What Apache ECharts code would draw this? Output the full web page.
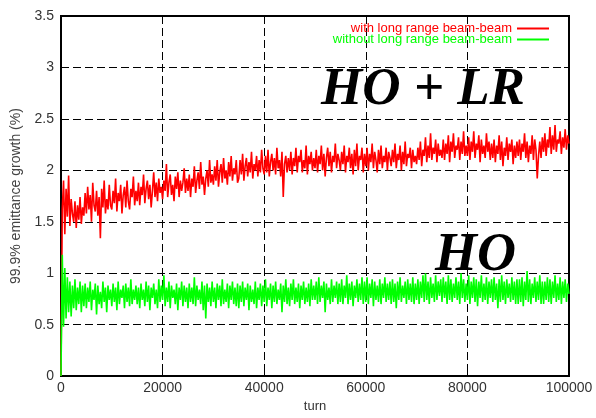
<!DOCTYPE html>
<html>
<head>
<meta charset="utf-8">
<script src="https://cdn.jsdelivr.net/npm/echarts@6/dist/echarts.min.js"></script>
<style>
    html, body { margin: 0; padding: 0; background: #fff; }
    #chart { width: 596px; height: 418px; }
</style>
</head>
<body>
<div id="chart"></div>
<script>
// turns are sampled every turnStep, starting at 0
var turnStep = 250;
var xTicks = [0, 20000, 40000, 60000, 80000, 100000];
var yTicks = [0, 0.5, 1, 1.5, 2, 2.5, 3, 3.5];
var seriesNames = ["with long range beam-beam", "without long range beam-beam"];

// HO + LR, one row = 5000 turns
var redValues = [
    0, 1.62, 1.90, 1.38, 1.82, 1.55, 1.95, 1.46, 1.72, 1.58, 1.50, 1.70, 1.44, 1.66, 1.52, 1.74, 1.48, 1.64, 1.56, 1.78,
    1.58, 1.84, 1.62, 1.76, 1.50, 1.88, 1.66, 1.60, 1.80, 1.56, 1.74, 1.34, 1.82, 1.64, 1.90, 1.58, 1.72, 1.62, 1.86, 1.66,
    1.62, 1.80, 1.68, 1.92, 1.60, 1.78, 1.70, 1.86, 1.58, 1.76, 1.84, 1.64, 1.90, 1.70, 1.62, 1.82, 1.74, 1.94, 1.66, 1.80,
    1.70, 1.88, 1.66, 1.84, 1.76, 1.96, 1.68, 1.82, 1.90, 1.72, 1.86, 1.64, 1.80, 1.98, 1.74, 1.88, 1.70, 1.92, 1.78, 1.84,
    1.72, 1.90, 1.80, 2.06, 1.74, 1.88, 1.96, 1.76, 1.86, 1.70, 1.94, 1.82, 1.98, 1.74, 1.90, 1.80, 1.88, 2.02, 1.78, 1.92,
    1.80, 1.96, 1.74, 1.92, 1.84, 2.04, 1.78, 1.90, 1.98, 1.82, 2.08, 1.86, 1.94, 1.76, 1.92, 2.00, 1.84, 2.10, 1.88, 1.96,
    1.86, 2.04, 1.90, 2.10, 1.84, 1.98, 2.06, 1.88, 2.12, 1.92, 2.00, 1.86, 2.08, 1.94, 2.14, 1.90, 2.02, 1.96, 2.10, 1.88,
    1.92, 2.10, 1.96, 2.16, 1.90, 2.04, 2.12, 1.94, 2.08, 1.98, 2.18, 1.92, 2.06, 2.00, 2.14, 1.94, 2.10, 1.98, 2.20, 2.02,
    1.96, 2.14, 1.98, 2.20, 1.94, 2.08, 2.16, 2.00, 2.12, 1.96, 2.22, 2.02, 2.10, 1.94, 2.18, 1.74, 2.06, 2.14, 1.98, 2.12,
    2.00, 2.18, 1.96, 2.12, 2.04, 2.22, 1.98, 2.14, 2.08, 2.20, 1.98, 2.10, 2.02, 2.24, 1.96, 2.14, 2.06, 2.18, 2.00, 2.12,
    2.02, 2.20, 1.98, 2.14, 2.06, 2.24, 2.00, 2.16, 1.94, 2.12, 2.22, 2.04, 2.18, 1.98, 2.14, 2.08, 2.26, 2.02, 2.16, 2.10,
    2.00, 2.18, 2.06, 2.24, 1.98, 2.14, 2.08, 2.22, 2.02, 2.16, 1.96, 2.20, 2.04, 2.26, 2.00, 2.14, 2.10, 2.22, 1.98, 2.16,
    2.04, 2.22, 2.00, 2.16, 2.08, 2.26, 2.02, 2.18, 2.10, 1.98, 2.20, 2.06, 2.24, 2.02, 2.14, 2.08, 2.22, 2.00, 2.18, 2.12,
    2.04, 2.20, 2.08, 2.26, 2.02, 2.16, 2.10, 2.24, 2.00, 2.18, 2.06, 2.28, 2.04, 2.16, 2.12, 2.22, 2.02, 2.20, 2.08, 2.14,
    2.06, 2.22, 2.10, 2.28, 2.04, 2.20, 2.14, 2.32, 2.08, 2.24, 2.12, 2.36, 2.10, 2.22, 2.16, 2.30, 2.08, 2.26, 2.14, 2.20,
    2.12, 2.30, 2.10, 2.26, 2.16, 2.34, 2.08, 2.28, 2.18, 2.36, 2.12, 2.24, 2.20, 2.32, 2.10, 2.28, 2.16, 2.38, 2.14, 2.24,
    2.14, 2.32, 2.10, 2.28, 2.18, 2.38, 2.12, 2.26, 2.20, 2.34, 2.08, 2.30, 2.16, 2.24, 2.12, 2.36, 2.18, 2.28, 2.10, 2.26,
    2.12, 2.30, 2.08, 2.24, 2.16, 2.34, 2.10, 2.28, 2.04, 2.22, 2.14, 2.32, 2.10, 2.26, 2.18, 2.30, 2.06, 2.24, 2.12, 2.28,
    2.14, 2.30, 2.10, 2.26, 2.18, 2.36, 2.12, 2.28, 2.08, 2.24, 2.16, 2.34, 2.10, 2.30, 2.20, 1.92, 2.14, 2.28, 2.12, 2.32,
    2.18, 2.36, 2.14, 2.30, 2.22, 2.42, 2.16, 2.34, 2.20, 2.44, 2.18, 2.30, 2.26, 2.38, 2.16, 2.32, 2.22, 2.40, 2.20, 2.34,
    2.26
];

// HO only, one row = 5000 turns
var greenValues = [
    0, 1.18, 0.48, 1.05, 0.56, 0.96, 0.62, 0.92, 0.58, 0.88, 0.66, 0.94, 0.64, 0.86, 0.70, 0.92, 0.62, 0.88, 0.68, 0.90,
    0.66, 0.86, 0.72, 0.92, 0.64, 0.84, 0.74, 0.90, 0.60, 0.88, 0.70, 0.82, 0.66, 0.92, 0.72, 0.86, 0.62, 0.88, 0.74, 0.84,
    0.68, 0.90, 0.72, 0.86, 0.64, 0.92, 0.70, 0.84, 0.76, 0.88, 0.66, 0.90, 0.72, 0.86, 0.68, 0.94, 0.70, 0.84, 0.74, 0.88,
    0.70, 0.86, 0.66, 0.90, 0.74, 0.84, 0.68, 0.92, 0.72, 0.88, 0.64, 0.86, 0.76, 0.90, 0.70, 0.84, 0.66, 0.94, 0.72, 0.88,
    0.74, 0.98, 0.68, 0.86, 0.72, 0.92, 0.66, 0.88, 0.76, 0.84, 0.70, 0.90, 0.64, 0.86, 0.74, 0.92, 0.68, 0.88, 0.72, 0.86,
    0.66, 0.90, 0.72, 0.86, 0.70, 0.96, 0.68, 0.88, 0.74, 0.84, 0.70, 0.92, 0.64, 0.88, 0.56, 0.90, 0.72, 0.86, 0.68, 0.92,
    0.72, 0.86, 0.66, 0.90, 0.74, 0.88, 0.68, 0.94, 0.70, 0.84, 0.72, 0.90, 0.66, 0.88, 0.74, 0.92, 0.70, 0.86, 0.68, 0.90,
    0.66, 0.88, 0.72, 0.92, 0.68, 0.86, 0.74, 0.90, 0.64, 0.88, 0.72, 0.84, 0.70, 0.92, 0.66, 0.86, 0.74, 0.90, 0.68, 0.88,
    0.72, 0.94, 0.68, 0.86, 0.74, 0.90, 0.66, 0.88, 0.72, 0.92, 0.70, 0.84, 0.74, 0.90, 0.62, 0.88, 0.72, 0.94, 0.70, 0.86,
    0.68, 0.90, 0.74, 0.94, 0.70, 0.86, 0.72, 0.90, 0.66, 0.88, 0.74, 0.92, 0.70, 0.86, 0.72, 0.90, 0.68, 0.94, 0.74, 0.88,
    0.74, 0.92, 0.70, 0.96, 0.72, 0.88, 0.76, 0.92, 0.62, 0.90, 0.74, 0.86, 0.70, 0.94, 0.72, 0.88, 0.76, 0.92, 0.70, 0.90,
    0.72, 0.94, 0.70, 0.88, 0.76, 0.98, 0.70, 0.90, 0.74, 0.92, 0.68, 0.88, 0.76, 0.94, 0.72, 0.90, 0.74, 0.96, 0.70, 0.92,
    0.72, 0.96, 0.70, 0.90, 0.76, 0.94, 0.68, 0.92, 0.74, 0.88, 0.72, 0.94, 0.70, 0.90, 0.76, 0.96, 0.72, 0.90, 0.74, 0.92,
    0.70, 0.94, 0.72, 0.90, 0.66, 0.92, 0.74, 0.96, 0.72, 0.88, 0.76, 0.92, 0.70, 0.94, 0.74, 0.90, 0.72, 0.96, 0.70, 0.90,
    0.74, 0.94, 0.70, 0.92, 0.76, 0.98, 0.72, 1.00, 0.74, 0.92, 0.70, 0.96, 0.76, 0.90, 0.72, 0.98, 0.74, 0.92, 0.78, 0.94,
    0.72, 0.96, 0.76, 0.92, 0.70, 0.98, 0.74, 0.94, 0.72, 0.90, 0.76, 0.96, 0.74, 0.92, 0.70, 1.00, 0.76, 0.94, 0.72, 0.90,
    0.74, 0.98, 0.70, 0.92, 0.76, 0.96, 0.72, 0.94, 0.68, 0.92, 0.76, 0.98, 0.72, 0.90, 0.74, 0.96, 0.70, 0.92, 0.76, 0.94,
    0.72, 0.96, 0.74, 0.90, 0.66, 0.94, 0.72, 0.98, 0.74, 0.92, 0.70, 0.94, 0.76, 0.90, 0.72, 0.96, 0.74, 0.92, 0.70, 0.94,
    0.70, 0.94, 0.72, 0.96, 0.68, 0.92, 0.74, 1.02, 0.72, 0.94, 0.70, 0.90, 0.76, 0.96, 0.72, 0.92, 0.74, 0.98, 0.70, 0.92,
    0.70, 0.92, 0.74, 0.96, 0.72, 0.94, 0.70, 0.92, 0.76, 0.98, 0.72, 0.90, 0.74, 0.96, 0.70, 0.92, 0.76, 0.94, 0.72, 0.90,
    0.80
];

function toPairs(values) {
    var list = [];
    for (var i = 0; i < values.length; i++) {
        list.push([i * turnStep, values[i]]);
    }
    return list;
}

var myChart = echarts.init(document.getElementById("chart"));
var labelFont = "Liberation Sans";
var gridDash = {
    color: "#000",
    width: 1,
    type: [8, 4]
};

var option = {
    animation: false,
    backgroundColor: "#fff",
    grid: {
        left: 61,
        right: 27,
        top: 16,
        bottom: 41,
        show: true,
        borderColor: "#000",
        borderWidth: 2
    },
    legend: {
        orient: "vertical",
        right: 42,
        top: 17,
        align: "right",
        itemGap: -2,
        itemWidth: 32,
        itemHeight: 2,
        icon: "rect",
        textStyle: {
            fontFamily: labelFont,
            fontSize: 13,
            lineHeight: 11
        },
        data: [
            { name: seriesNames[0], textStyle: { color: "#ff0000" } },
            { name: seriesNames[1], textStyle: { color: "#00ff00" } }
        ]
    },
    xAxis: {
        type: "value",
        min: xTicks[0],
        max: xTicks[xTicks.length - 1],
        interval: xTicks[1] - xTicks[0],
        name: "turn",
        nameLocation: "middle",
        nameGap: 21,
        nameTextStyle: { fontFamily: labelFont, fontSize: 13, color: "#333" },
        axisLine: { show: true, lineStyle: { color: "#000", width: 2 } },
        axisTick: { show: true, inside: true, length: 5, lineStyle: { color: "#000" } },
        axisLabel: {
            fontFamily: labelFont,
            fontSize: 14,
            color: "#333",
            margin: 5,
            formatter: function(v) { return String(v); }
        },
        splitLine: { show: true, lineStyle: gridDash }
    },
    yAxis: [
        {
            type: "value",
            min: yTicks[0],
            max: yTicks[yTicks.length - 1],
            interval: yTicks[1] - yTicks[0],
            name: "99.9% emittance growth (%)",
            nameLocation: "middle",
            nameGap: 38,
            nameTextStyle: { fontFamily: labelFont, fontSize: 14, color: "#444" },
            axisLine: { show: true, lineStyle: { color: "#000", width: 2 } },
            axisTick: { show: true, inside: true, length: 5, lineStyle: { color: "#000" } },
            axisLabel: {
                fontFamily: labelFont,
                fontSize: 14,
                color: "#333",
                margin: 7
            },
            splitLine: { show: true, lineStyle: gridDash }
        },
        {
            type: "value",
            position: "right",
            min: yTicks[0],
            max: yTicks[yTicks.length - 1],
            interval: yTicks[1] - yTicks[0],
            axisLine: { show: true, lineStyle: { color: "#000", width: 2 } },
            axisTick: { show: true, inside: true, length: 5, lineStyle: { color: "#000" } },
            axisLabel: { show: false },
            splitLine: { show: false }
        }
    ],
    graphic: [
        {
            type: "text",
            left: 321,
            top: 64,
            z: 100,
            style: {
                text: "HO + LR",
                font: "italic bold 53px 'Liberation Serif'",
                fill: "#000"
            }
        },
        {
            type: "text",
            left: 435,
            top: 229,
            z: 100,
            style: {
                text: "HO",
                font: "italic bold 54px 'Liberation Serif'",
                fill: "#000"
            }
        }
    ],
    series: [
        {
            name: seriesNames[0],
            type: "line",
            showSymbol: false,
            symbol: "none",
            color: "#ff0000",
            lineStyle: { width: 1.6 },
            data: toPairs(redValues)
        },
        {
            name: seriesNames[1],
            type: "line",
            showSymbol: false,
            symbol: "none",
            color: "#00ff00",
            lineStyle: { width: 1.6 },
            data: toPairs(greenValues)
        }
    ]
};
myChart.setOption(option);
</script>
</body>
</html>
